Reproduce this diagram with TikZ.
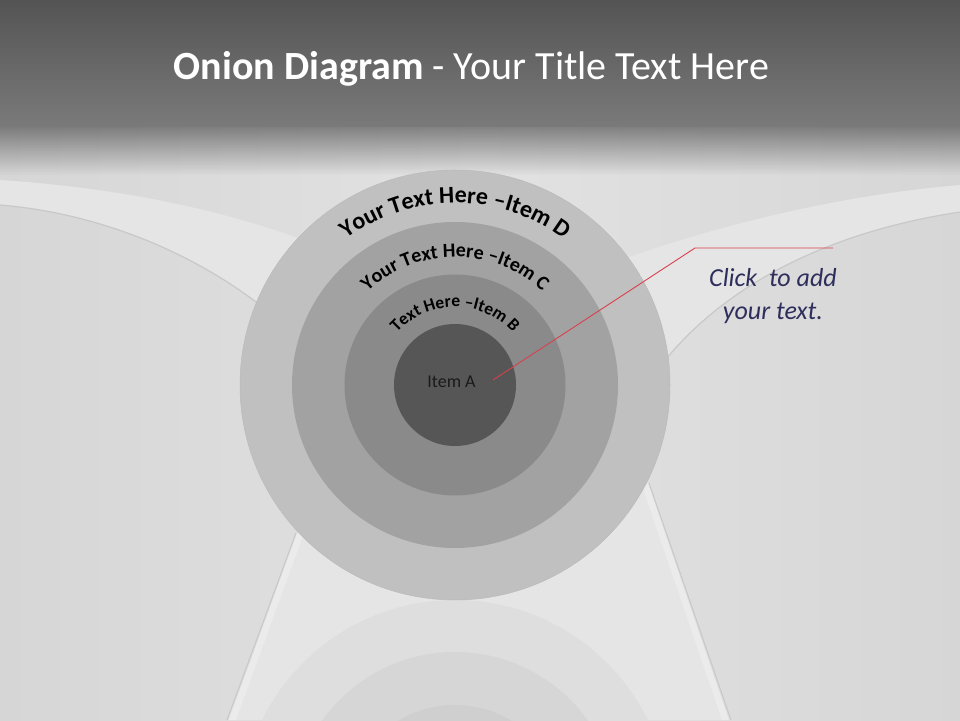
\documentclass[tikz,border=0pt]{standalone}
\usepackage{fontspec}
\setmainfont{Carlito}
\newfontfamily\arcfont{Carlito}
\usetikzlibrary{decorations.text,fadings}
\tikzfading[name=fadedown, top color=transparent!0, bottom color=transparent!100]
\definecolor{titletop}{HTML}{545454}
\definecolor{titlebot}{HTML}{7A7A7A}
\definecolor{bgmid}{HTML}{E2E2E2}
\definecolor{bgside}{HTML}{D6D6D6}
\definecolor{bandlight}{HTML}{E5E5E5}
\definecolor{edgeshadow}{HTML}{C8C8C8}
\definecolor{ringD}{HTML}{C0C0C0}
\definecolor{ringC}{HTML}{A2A2A2}
\definecolor{ringB}{HTML}{8A8A8A}
\definecolor{ringA}{HTML}{555655}
\definecolor{arctext}{HTML}{000000}
\definecolor{itemtext}{HTML}{1A1A1A}
\definecolor{notetext}{HTML}{2E2E5C}
\definecolor{callout}{HTML}{D9404E}
\tikzset{
  ring/.style={circle, inner sep=0pt, draw=none},
  arclabel/.style={decorate, decoration={text along path, text align=center, text={#1}}},
}
\begin{document}
\begin{tikzpicture}[x=1pt,y=1pt]
\useasboundingbox (0,0) rectangle (960,720);
% base background
\shade[left color=bgside, right color=bgside, middle color=bgmid] (0,0) rectangle (960,593);
% left light band
\fill[bandlight] (0,540) .. controls (120,532) and (230,510) .. (330,470)
  -- (300,380) .. controls (230,450) and (120,505) .. (0,515) -- cycle;
\draw[edgeshadow, line width=1.2pt] (0,515) .. controls (120,505) and (230,450) .. (300,380);
% right light band
\fill[bandlight] (620,460) .. controls (720,495) and (840,525) .. (960,535)
  -- (960,508) .. controls (840,490) and (720,440) .. (650,340) -- cycle;
\draw[edgeshadow, line width=1.2pt] (650,340) .. controls (720,440) and (840,490) .. (960,508);
% floor between strips
\fill[bandlight] (300,187) -- (645,237) -- (725,0) -- (228,0) -- cycle;
\fill[white!92!black] (297,187) -- (304,187) -- (236,0) -- (229,0) -- cycle;
\draw[edgeshadow, line width=1pt] (296,187) -- (227,0);
\fill[white!92!black] (641,237) -- (648,237) -- (729,0) -- (722,0) -- cycle;
\draw[edgeshadow, line width=1pt] (649,237) -- (731,0);
% top fade under title bar
\fill[black, opacity=0.42, path fading=fadedown] (-10,545) rectangle (970,593);
% title bar
\shade[top color=titletop, bottom color=titlebot] (0,593) rectangle (960,720);
\node[anchor=base, text=white, font=\fontsize{40}{46}\selectfont, inner sep=0pt] (title) at (471.5,640)
  {\textbf{Onion Diagram} - Your Title Text Here};
% reflection
\begin{scope}
\clip (0,0) rectangle (960,120);
\node[ring, fill=black!13, minimum size=430pt] (rD) at (455,-95) {};
\node[ring, fill=black!16, minimum size=326pt] (rC) at (455,-95) {};
\node[ring, fill=black!19, minimum size=220pt] (rB) at (455,-95) {};
\end{scope}
% onion rings
\node[ring, fill=ringD, draw=black!27, line width=0.5pt, minimum size=430pt] (D) at (455,335) {};
\node[ring, fill=ringC, minimum size=326pt] (C) at (455,335) {};
\node[ring, fill=ringB, minimum size=221pt] (B) at (455,335) {};
\node[ring, fill=ringA, minimum size=122pt] (A) at (455,335) {};
% curved labels
\path[arclabel={|\arcfont\bfseries\fontsize{24}{28}\selectfont\color{arctext}|Your Text Here –Item D}]
  (273,335) arc[start angle=180, end angle=0, radius=182];
\path[arclabel={|\arcfont\bfseries\fontsize{20}{24}\selectfont\color{arctext}|Your Text Here –Item C}]
  (327,335) arc[start angle=180, end angle=0, radius=128];
\path[arclabel={|\arcfont\bfseries\fontsize{17.5}{20}\selectfont\color{arctext}|Text Here –Item B}]
  (377,335) arc[start angle=180, end angle=0, radius=78];
\node[anchor=base, text=itemtext, font=\fontsize{18}{21}\selectfont, inner sep=0pt] (itemA) at (451.5,332.3) {Item A};
% callout
\coordinate (p0) at (493,340);
\coordinate (p1) at (695,472);
\coordinate (p2) at (833,472);
\draw[callout, line width=0.9pt] (p0) -- (p1) -- (p2);
\node[align=center, text=notetext, font=\itshape\fontsize{26}{33}\selectfont, inner sep=0pt] (note) at (773,424)
  {Click\ \ to add\\your text.};
\end{tikzpicture}
\end{document}
